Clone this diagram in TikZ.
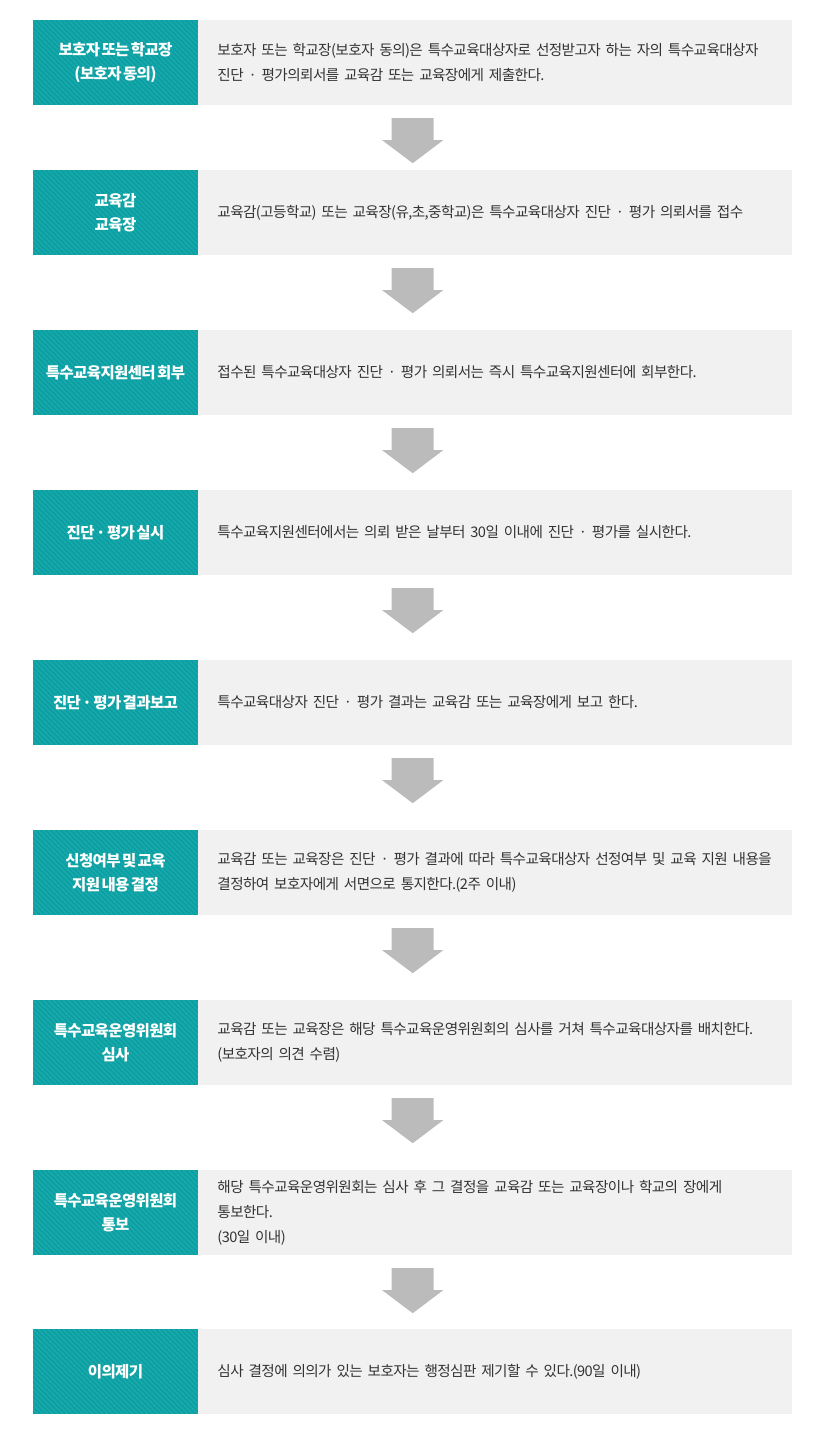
\documentclass[tikz,border=0pt]{standalone}
\usepackage{fontspec}
\setmainfont{Noto Sans CJK KR}[LetterSpace=-4.0,WordSpace={0.5,0,0}]
\usepackage{xcolor}
\usetikzlibrary{positioning}
\definecolor{headteal}{RGB}{8,160,163}
\definecolor{bodygray}{RGB}{241,241,241}
\definecolor{bodytext}{RGB}{51,51,51}
\definecolor{arrowgray}{RGB}{187,187,187}
\newcommand{\bodyfont}{\fontsize{14.6}{25}\selectfont\setlength{\spaceskip}{2.5pt}}

\begin{document}
\begin{tikzpicture}[x=1pt,y=-1pt,node distance=0pt,
	title/.style={fill=headteal,text=white,font=\fontsize{15.5}{24}\selectfont\bfseries,align=center,
		minimum width=165pt,minimum height=85pt,inner sep=0pt,
		path picture={\foreach \s in {-90,-85,...,170}
			\draw[white,opacity=0.09,line width=1.4pt] ([xshift=\s pt]path picture bounding box.north west) -- ++(90,90);}},
	body/.style={fill=bodygray,text=bodytext,font=\bodyfont,align=left,
		text width=556pt,minimum height=85pt,inner xsep=19pt,inner ysep=0pt},
	down/.style={fill=arrowgray}]
	\useasboundingbox (0,0) rectangle (824,1440);

	\node[title] (t1) at (115.5,62.5) {보호자 또는 학교장\\(보호자 동의)};
	\node[body] (b1) [right=of t1] {보호자 또는 학교장(보호자 동의)은 특수교육대상자로 선정받고자 하는 자의 특수교육대상자\\진단 · 평가의뢰서를 교육감 또는 교육장에게 제출한다.};
	\node[title] (t2) at (115.5,212.5) {교육감\\교육장};
	\node[body] (b2) [right=of t2] {교육감(고등학교) 또는 교육장(유,초,중학교)은 특수교육대상자 진단 · 평가 의뢰서를 접수};
	\node[title] (t3) at (115.5,372.5) {특수교육지원센터 회부};
	\node[body] (b3) [right=of t3] {접수된 특수교육대상자 진단 · 평가 의뢰서는 즉시 특수교육지원센터에 회부한다.};
	\node[title] (t4) at (115.5,532.5) {진단 · 평가 실시};
	\node[body] (b4) [right=of t4] {특수교육지원센터에서는 의뢰 받은 날부터 30일 이내에 진단 · 평가를 실시한다.};
	\node[title] (t5) at (115.5,702.5) {진단 · 평가 결과보고};
	\node[body] (b5) [right=of t5] {특수교육대상자 진단 · 평가 결과는 교육감 또는 교육장에게 보고 한다.};
	\node[title] (t6) at (115.5,872.5) {신청여부 및 교육\\지원 내용 결정};
	\node[body] (b6) [right=of t6] {교육감 또는 교육장은 진단 · 평가 결과에 따라 특수교육대상자 선정여부 및 교육 지원 내용을\\결정하여 보호자에게 서면으로 통지한다.(2주 이내)};
	\node[title] (t7) at (115.5,1042.5) {특수교육운영위원회\\심사};
	\node[body] (b7) [right=of t7] {교육감 또는 교육장은 해당 특수교육운영위원회의 심사를 거쳐 특수교육대상자를 배치한다.\\(보호자의 의견 수렴)};
	\node[title] (t8) at (115.5,1212.5) {특수교육운영위원회\\통보};
	\node[body] (b8) [right=of t8] {해당 특수교육운영위원회는 심사 후 그 결정을 교육감 또는 교육장이나 학교의 장에게 통보한다.\\(30일 이내)};
	\node[title] (t9) at (115.5,1371.5) {이의제기};
	\node[body] (b9) [right=of t9] {심사 결정에 의의가 있는 보호자는 행정심판 제기할 수 있다.(90일 이내)};

	% block arrows between the steps
	\foreach \i in {1,...,8}
		\fill[down] ([xshift=193.5pt,yshift=-13pt]t\i.south east) -- ++(42,0) -- ++(0,22) -- ++(9.5,0)
			-- ++(-30.5,23) -- ++(-30.5,-23) -- ++(9.5,0) -- cycle;
\end{tikzpicture}
\end{document}
